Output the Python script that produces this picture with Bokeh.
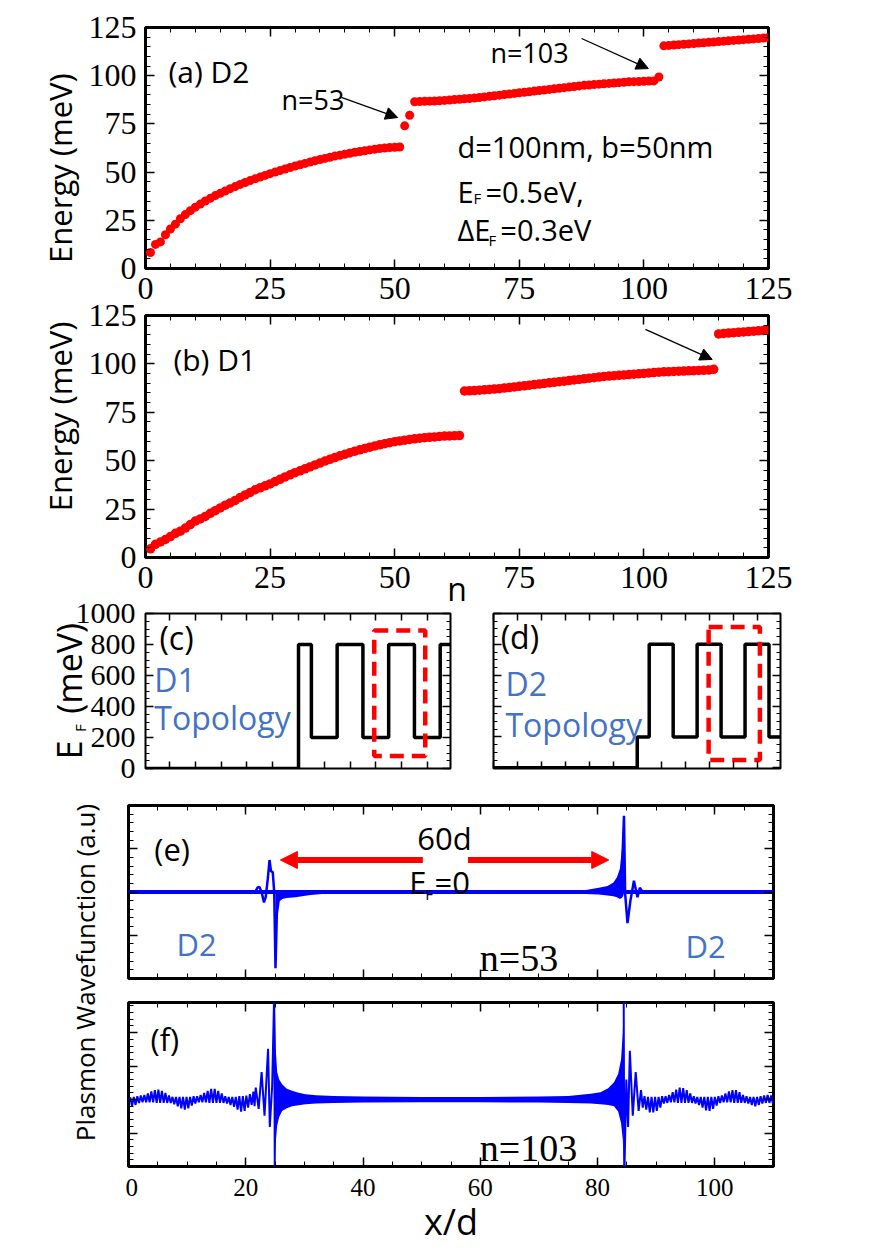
from bokeh.plotting import figure
from bokeh.models import (Range1d, LinearAxis, SingleIntervalTicker, Arrow,
                          NormalHead, CustomJSTickFormatter)
from bokeh.layouts import row, column
from bokeh.core.properties import value
from bokeh.embed import file_html
from bokeh.resources import INLINE

SERIF = "Liberation Serif"
SANS = "Open Sans"
RED = "#FF0000"
BLUE = "#4472C4"
WAVE = "#0000FF"
NB = "\u00a0"

# ---------------- data ----------------
# (a) D2 eigen-energies (meV), n = 1..125
n_a = list(range(1, 126))
e_a = [8.3, 12.5, 13.8, 17.5, 20.5, 23.0, 25.8, 28.0, 30.0, 31.8,
       33.4, 35.0, 36.4, 37.8, 39.0, 40.2, 41.4, 42.5, 43.6, 44.6,
       45.6, 46.5, 47.4, 48.3, 49.2, 50.0, 50.8, 51.6, 52.4, 53.1,
       53.8, 54.5, 55.2, 55.9, 56.5, 57.1, 57.7, 58.3, 58.8, 59.3,
       59.8, 60.3, 60.7, 61.1, 61.5, 61.9, 62.2, 62.5, 62.7, 62.9,
       63.0, 74.0, 79.5, 86.5, 86.6, 86.7, 86.8, 86.9, 87.0, 87.2,
       87.4, 87.6, 87.8, 88.0, 88.2, 88.4, 88.7, 89.0, 89.3, 89.6,
       89.9, 90.2, 90.5, 90.8, 91.1, 91.4, 91.7, 92.0, 92.3, 92.6,
       92.9, 93.2, 93.5, 93.8, 94.1, 94.4, 94.7, 95.0, 95.2, 95.4,
       95.6, 95.8, 96.0, 96.2, 96.4, 96.6, 96.8, 96.9, 97.0, 97.1,
       97.2, 97.3, 99.3, 115.5, 115.7, 115.9, 116.1, 116.3, 116.5, 116.7,
       116.9, 117.1, 117.3, 117.5, 117.7, 117.9, 118.1, 118.3, 118.5, 118.7,
       118.9, 119.1, 119.3, 119.5, 119.8]

# (b) D1 eigen-energies (meV), n = 1..125
n_b = list(range(1, 126))
e_b = [4.5, 6.8, 8.0, 9.3, 10.8, 12.5, 13.6, 15.2, 17.0, 18.8,
       19.9, 21.2, 22.8, 24.2, 25.6, 27.0, 28.2, 29.5, 31.0, 32.3,
       33.6, 35.0, 36.0, 37.0, 38.0, 39.2, 40.4, 41.6, 42.7, 43.8,
       44.8, 45.8, 46.8, 47.8, 48.8, 49.8, 50.7, 51.6, 52.5, 53.3,
       54.1, 54.9, 55.6, 56.3, 57.0, 57.6, 58.2, 58.8, 59.3, 59.8,
       60.2, 60.6, 61.0, 61.3, 61.6, 61.9, 62.1, 62.3, 62.5, 62.7,
       62.8, 62.9, 63.0, 86.0, 86.1, 86.2, 86.4, 86.6, 86.8, 87.0,
       87.2, 87.5, 87.8, 88.1, 88.4, 88.7, 89.0, 89.3, 89.6, 89.9,
       90.2, 90.5, 90.8, 91.1, 91.4, 91.7, 92.0, 92.3, 92.6, 92.9,
       93.2, 93.5, 93.7, 93.9, 94.1, 94.3, 94.5, 94.7, 94.9, 95.1,
       95.3, 95.5, 95.7, 95.9, 96.0, 96.1, 96.2, 96.3, 96.4, 96.5,
       96.6, 96.7, 96.8, 97.2, 115.5, 115.7, 115.9, 116.1, 116.3, 116.5,
       116.7, 116.9, 117.1, 117.3, 117.5]

# (c) D1 Fermi-level profile (meV) vs position (units of d)
x_c = [-2.97, 0.0, 0.25, 0.75, 1.25, 1.75, 2.25, 2.75, 2.95]
ef_c = [0, 800, 200, 800, 200, 800, 200, 800, 800]
box_c = dict(left=1.47, right=2.46, bottom=80, top=890)

# (d) D2 Fermi-level profile (meV)
x_d = [-3.0, 0.0, 0.25, 0.75, 1.25, 1.75, 2.25, 2.75, 2.99]
ef_d = [0, 200, 800, 200, 800, 200, 800, 200, 200]
box_d = dict(left=1.49, right=2.56, bottom=50, top=913)

# (e) n=53 wavefunction: main trace (x/d, a.u.)
e_trace = [(0.0, 0.0), (21.6, 0.0), (22.0, 0.05), (22.3, 0.06), (22.7, 0.0),
           (23.1, -0.12), (23.4, -0.06), (23.75, 0.15), (24.05, 0.37),
           (24.3, 0.24), (24.6, 0.23), (24.85, 0.0), (25.07, -0.88),
           (25.3, -0.25), (25.6, -0.1), (26.2, -0.06), (27.5, -0.03),
           (30.0, -0.015), (35.0, 0.0), (80.0, 0.0), (83.0, 0.02), (83.8, 0.1),
           (84.2, 0.3), (84.5, 0.88), (84.7, -0.02), (85.1, -0.36), (85.6, -0.1),
           (86.2, 0.13), (86.8, -0.06), (87.2, 0.05), (87.8, -0.01), (90.0, 0.0),
           (110.0, 0.0)]
e_noise_x = [0.0, 110.0]
e_noise_hi = [0.022, 0.022]
e_noise_lo = [-0.022, -0.022]
e_tail_x = [25.07, 25.3, 25.6, 26.2, 27.0, 28.5, 29.6, 31.0, 33.0]
e_tail_hi = [0.0, 0.02, 0.02, 0.02, 0.02, 0.02, 0.02, 0.02, 0.02]
e_tail_lo = [-0.88, -0.25, -0.11, -0.08, -0.07, -0.06, -0.05, -0.035, -0.022]
e_rise_x = [78.0, 80.2, 81.7, 82.7, 83.3, 83.8, 84.15, 84.4, 84.5]
e_rise_hi = [0.022, 0.05, 0.07, 0.11, 0.17, 0.27, 0.5, 0.8, 0.88]
e_rise_lo = [-0.022, -0.03, -0.04, -0.05, -0.06, -0.08, -0.07, -0.04, 0.0]

# (f) n=103 wavefunction
f_band_x = [24.95, 25.15, 25.35, 25.7, 26.2, 27.0, 27.9, 29.0, 30.2, 32.0,
            35.0, 40.0, 50.0, 60.0, 70.0, 75.0, 78.8, 80.5, 81.8, 82.8,
            83.5, 84.0, 84.3, 84.45]
f_band_hi = [1.45, 0.7, 0.41, 0.3, 0.23, 0.16, 0.13, 0.1, 0.08, 0.065,
             0.055, 0.045, 0.04, 0.04, 0.045, 0.055, 0.085, 0.11, 0.17, 0.26,
             0.38, 0.6, 1.0, 1.45]
f_band_lo = [-1.0, -0.6, -0.39, -0.26, -0.17, -0.13, -0.1, -0.085, -0.07, -0.06,
             -0.05, -0.045, -0.04, -0.04, -0.045, -0.05, -0.06, -0.07, -0.08, -0.1,
             -0.18, -0.35, -0.6, -1.0]
f_left = [(0.0, 0.0), (0.3, 0.03), (0.6, -0.10), (0.9, 0.04), (1.2, -0.08),
          (1.5, 0.05), (1.8, -0.05), (2.1, 0.06), (2.4, -0.04), (2.7, 0.07),
          (3.0, -0.04), (3.3, 0.09), (3.6, -0.04), (3.9, 0.12), (4.2, -0.04),
          (4.5, 0.14), (4.8, -0.05), (5.1, 0.15), (5.4, -0.05), (5.7, 0.13),
          (6.0, -0.05), (6.3, 0.10), (6.6, -0.05), (6.9, 0.06), (7.2, -0.05),
          (7.5, 0.04), (7.8, -0.07), (8.1, 0.04), (8.4, -0.10), (8.7, 0.04),
          (9.0, -0.13), (9.3, 0.04), (9.6, -0.15), (9.9, 0.04), (10.2, -0.13),
          (10.5, 0.04), (10.8, -0.09), (11.1, 0.05), (11.4, -0.06), (11.7, 0.05),
          (12.0, -0.04), (12.3, 0.07), (12.6, -0.04), (12.9, 0.10), (13.2, -0.04),
          (13.5, 0.13), (13.8, -0.05), (14.1, 0.16), (14.4, -0.05), (14.7, 0.16),
          (15.0, -0.05), (15.3, 0.13), (15.6, -0.05), (15.9, 0.09), (16.2, -0.05),
          (16.5, 0.05), (16.8, -0.06), (17.1, 0.04), (17.4, -0.08), (17.7, 0.04),
          (18.0, -0.11), (18.3, 0.04), (18.6, -0.15), (18.9, 0.05), (19.2, -0.18),
          (19.5, 0.05), (19.8, -0.17), (20.1, 0.06), (20.4, -0.12), (20.7, 0.08),
          (21.0, -0.08), (21.3, 0.12), (21.5, -0.10), (21.7, 0.18), (22.2, -0.14),
          (22.7, 0.41), (23.2, -0.24), (23.8, 0.76), (24.1, -0.41), (24.5, 0.2),
          (24.85, 1.6), (24.95, -1.2)]
f_right = [(84.45, 1.6), (84.55, -1.2), (84.9, 0.3), (85.2, -0.41), (85.5, 0.73),
           (86.0, -0.24), (86.5, 0.41), (87.0, -0.17), (87.4, 0.14), (87.7, -0.12),
           (88.0, 0.05), (88.3, -0.15), (88.6, 0.04), (88.9, -0.19), (89.2, 0.04),
           (89.5, -0.19), (89.8, 0.04), (90.1, -0.17), (90.4, 0.04), (90.7, -0.12),
           (91.0, 0.05), (91.3, -0.06), (91.6, 0.05), (91.9, -0.05), (92.2, 0.07),
           (92.5, -0.04), (92.8, 0.11), (93.1, -0.04), (93.4, 0.15), (93.7, -0.05),
           (94.0, 0.18), (94.3, -0.05), (94.6, 0.17), (94.9, -0.05), (95.2, 0.14),
           (95.5, -0.05), (95.8, 0.09), (96.1, -0.05), (96.4, 0.05), (96.7, -0.06),
           (97.0, 0.04), (97.3, -0.08), (97.6, 0.04), (97.9, -0.12), (98.2, 0.04),
           (98.5, -0.16), (98.8, 0.04), (99.1, -0.17), (99.4, 0.04), (99.7, -0.14),
           (100.0, 0.04), (100.3, -0.09), (100.6, 0.05), (100.9, -0.05), (101.2, 0.06),
           (101.5, -0.04), (101.8, 0.09), (102.1, -0.04), (102.4, 0.12), (102.7, -0.04),
           (103.0, 0.14), (103.3, -0.05), (103.6, 0.14), (103.9, -0.05), (104.2, 0.11),
           (104.5, -0.05), (104.8, 0.07), (105.1, -0.05), (105.4, 0.05), (105.7, -0.06),
           (106.0, 0.04), (106.3, -0.08), (106.6, 0.04), (106.9, -0.10), (107.2, 0.04),
           (107.5, -0.08), (107.8, 0.05), (108.1, -0.06), (108.4, 0.06), (108.7, -0.05),
           (109.0, 0.07), (109.3, -0.05), (109.6, 0.06), (109.9, -0.06), (110.0, 0.0)]


# ---------------- helpers ----------------
def new_fig(w, h, xr, yr, left, right, top, bottom, outline=3):
    p = figure(width=w, height=h, x_range=Range1d(*xr), y_range=Range1d(*yr),
               output_backend="svg", toolbar_location=None,
               x_axis_location=None, y_axis_location=None,
               min_border_left=left, min_border_right=right,
               min_border_top=top, min_border_bottom=bottom)
    p.xgrid.visible = False
    p.ygrid.visible = False
    p.outline_line_color = "black" if outline else None
    p.outline_line_width = outline if outline else 1
    p.background_fill_alpha = 0
    p.border_fill_alpha = 0
    return p


def add_axis(p, side, interval, minor, labels=False, size="32px", standoff=9,
             tick_in=9, minor_in=5, ticks=True):
    ax = LinearAxis(ticker=SingleIntervalTicker(interval=interval, num_minor_ticks=minor))
    ax.axis_line_color = None
    ax.major_tick_in = tick_in if ticks else 0
    ax.major_tick_out = 0
    ax.minor_tick_in = minor_in if ticks else 0
    ax.minor_tick_out = 0
    ax.major_tick_line_color = "black" if ticks else None
    ax.major_tick_line_width = 1.5
    ax.minor_tick_line_color = "black" if ticks else None
    ax.minor_tick_line_width = 1
    if labels:
        ax.major_label_text_font = SERIF
        ax.major_label_text_font_size = size
        ax.major_label_standoff = standoff
        ax.major_label_text_color = "black"
    else:
        ax.formatter = CustomJSTickFormatter(code="return '';")
        ax.major_label_text_font_size = "0px"
        ax.major_label_standoff = 0
    p.add_layout(ax, side)
    return ax


def set_label(ax, text, size, standoff):
    ax.axis_label = text
    ax.axis_label_text_font = SANS
    ax.axis_label_text_font_size = size
    ax.axis_label_text_font_style = "normal"
    ax.axis_label_text_color = "black"
    ax.axis_label_standoff = standoff


def add_text(p, x, y, txt, size, color="black", font=SANS, align="left",
             baseline="middle"):
    p.text(x=[x], y=[y], text=[txt], text_font=value(font),
           text_font_size=value(size), text_color=color, text_align=align,
           text_baseline=baseline)


def arrow(p, xs, ys, xe, ye, color="black", width=1.3, head=12):
    p.add_layout(Arrow(end=NormalHead(size=head, fill_color=color, line_color=color),
                       x_start=xs, y_start=ys, x_end=xe, y_end=ye,
                       line_color=color, line_width=width))


# ---------------- (a) ----------------
fa = new_fig(797, 312, (0, 125), (0, 125), 137, 37, 19, 52)
axa = add_axis(fa, "left", 25, 5, labels=True, standoff=9)
set_label(axa, "Energy (meV)" + NB * 5, "31px", 5)
add_axis(fa, "below", 25, 5, labels=True, standoff=9)
add_axis(fa, "right", 25, 5)
add_axis(fa, "above", 25, 5)
fa.scatter(n_a, e_a, marker="circle", size=9, fill_color=RED, line_color=None)
add_text(fa, 4.6, 102.2, "(a) D2", "30px")
add_text(fa, 27.3, 87.7, "n=53", "27px")
add_text(fa, 69.2, 112.0, "n=103", "27px")
add_text(fa, 62.6, 63.3, "d=100nm, b=50nm", "29px")
add_text(fa, 62.6, 39.9, "E", "29px")
add_text(fa, 65.8, 36.5, "F", "15px")
add_text(fa, 68.2, 39.9, "=0.5eV,", "29px")
add_text(fa, 62.6, 20.2, "\u0394E", "29px")
add_text(fa, 68.8, 14.7, "F", "15px")
add_text(fa, 71.2, 20.2, "=0.3eV", "29px")
arrow(fa, 39.3, 88.7, 50.6, 78.3)
arrow(fa, 87.5, 119.3, 100.9, 103.7)

# ---------------- (b) ----------------
fb = new_fig(797, 331, (0, 125), (0, 125), 137, 37, 21, 68)
axbl = add_axis(fb, "left", 25, 5, labels=True, standoff=9)
set_label(axbl, NB * 5 + "Energy (meV)", "31px", 5)
axb = add_axis(fb, "below", 25, 5, labels=True, standoff=9)
set_label(axb, "n", "32px", -24)
add_axis(fb, "right", 25, 5)
add_axis(fb, "above", 25, 5)
fb.scatter(n_b, e_b, marker="circle", size=9.5, fill_color=RED, line_color=None)
add_text(fb, 5.6, 102.3, "(b) D1", "30px")
arrow(fb, 100.3, 117.8, 113.7, 102.3)
fb.margin = (-26, 0, 0, 0)

# ---------------- (c) ----------------
fc = new_fig(462, 200, (-2.97, 2.95), (0, 1000), 137, 20, 21, 14, outline=2)
axc = add_axis(fc, "left", 200, 4, labels=True, size="30px", standoff=10,
               tick_in=8, minor_in=4)
set_label(axc, "F" + NB * 19, "15px", -17)          # subscript of E_F
axc2 = add_axis(fc, "left", 200, 4, ticks=False)
set_label(axc2, "E" + NB * 3 + "(meV)", "34px", -25)
add_axis(fc, "right", 200, 4, tick_in=8, minor_in=4)
add_axis(fc, "below", 0.5, 0, tick_in=7)
add_axis(fc, "above", 0.5, 0, tick_in=7)
fc.step(x_c, ef_c, mode="after", line_width=3.5, line_color="black")
fc.quad(left=[box_c["left"]], right=[box_c["right"]], bottom=[box_c["bottom"]],
        top=[box_c["top"]], fill_color=None, line_color=RED, line_width=4.5,
        line_dash="14 8")
add_text(fc, -2.70, 848, "(c)", "32px")
add_text(fc, -2.80, 576, "D1", "32px", color=BLUE)
add_text(fc, -2.80, 327, "Topology", "32px", color=BLUE)

# ---------------- (d) ----------------
fd = new_fig(330, 200, (-3.0, 2.99), (-5, 1000), 23, 20, 23, 22, outline=2)
add_axis(fd, "left", 200, 4, tick_in=8, minor_in=4)
add_axis(fd, "right", 200, 4, tick_in=8, minor_in=4)
add_axis(fd, "below", 0.5, 0, tick_in=7)
add_axis(fd, "above", 0.5, 0, tick_in=7)
fd.step(x_d, ef_d, mode="after", line_width=3.5, line_color="black")
fd.quad(left=[box_d["left"]], right=[box_d["right"]], bottom=[box_d["bottom"]],
        top=[box_d["top"]], fill_color=None, line_color=RED, line_width=4.5,
        line_dash="14 8")
add_text(fd, -2.85, 850, "(d)", "32px")
add_text(fd, -2.75, 546, "D2", "32px", color=BLUE)
add_text(fd, -2.75, 280, "Topology", "32px", color=BLUE)

row3 = row(fc, fd)
row3.margin = (-35, 0, 0, 0)

# ---------------- (e)/(f) shared y label ----------------
lab_ef = new_fig(117, 463, (0, 1), (0, 1), 116, 0, 20, 119, outline=0)
axl = add_axis(lab_ef, "left", 1, 0, ticks=False)
set_label(axl, "Plasmon Wavefunction (a.u)", "26px", 22)

# ---------------- (e) ----------------
fe = new_fig(680, 200, (0, 110), (-1, 1), 3, 32, 15, 12)
add_axis(fe, "left", 0.5, 5, tick_in=9, minor_in=5)
add_axis(fe, "right", 0.5, 5, tick_in=9, minor_in=5)
add_axis(fe, "below", 20, 4, tick_in=9, minor_in=5)
add_axis(fe, "above", 20, 4, tick_in=9, minor_in=5)
fe.varea(x=e_noise_x, y1=e_noise_lo, y2=e_noise_hi, fill_color=WAVE)
fe.varea(x=e_tail_x, y1=e_tail_lo, y2=e_tail_hi, fill_color=WAVE)
fe.varea(x=e_rise_x, y1=e_rise_lo, y2=e_rise_hi, fill_color=WAVE)
fe.line([p[0] for p in e_trace], [p[1] for p in e_trace], line_color=WAVE,
        line_width=2.5)
arrow(fe, 50.2, 0.37, 25.9, 0.37, color=RED, width=6, head=17)
arrow(fe, 57.9, 0.37, 81.9, 0.37, color=RED, width=6, head=17)
add_text(fe, 4.4, 0.50, "(e)", "31px")
add_text(fe, 53.9, 0.62, "60d", "31px", align="center")
add_text(fe, 47.9, 0.12, "E", "31px")
add_text(fe, 50.6, -0.02, "F", "15px")
add_text(fe, 52.2, 0.12, "=0", "31px")
add_text(fe, 8.2, -0.60, "D2", "31px", color=BLUE)
add_text(fe, 95.0, -0.62, "D2", "31px", color=BLUE)
add_text(fe, 59.9, -0.76, "n=53", "38px", font=SERIF)

# ---------------- (f) ----------------
ff = new_fig(680, 263, (0, 110), (-1, 1.45), 3, 32, 12, 87)
add_axis(ff, "left", 0.5, 5, tick_in=9, minor_in=5)
add_axis(ff, "right", 0.5, 5, tick_in=9, minor_in=5)
axf = add_axis(ff, "below", 20, 4, labels=True, size="25px", standoff=12,
               tick_in=9, minor_in=5)
set_label(axf, "x/d", "36px", -2)
add_axis(ff, "above", 20, 4, tick_in=9, minor_in=5)
ff.varea(x=f_band_x, y1=f_band_lo, y2=f_band_hi, fill_color=WAVE)
ff.line([p[0] for p in f_left], [p[1] for p in f_left], line_color=WAVE,
        line_width=2)
ff.line([p[0] for p in f_right], [p[1] for p in f_right], line_color=WAVE,
        line_width=2)
add_text(ff, 3.75, 0.90, "(f)", "31px")
add_text(ff, 59.9, -0.72, "n=103", "38px", font=SERIF)

row4 = row(lab_ef, column(fe, ff))

# ---------------- layout ----------------
page = column(fa, fb, row3, row4)
page.margin = (8, 0, 0, 8)

open("out.html", "w").write(file_html(page, INLINE))
